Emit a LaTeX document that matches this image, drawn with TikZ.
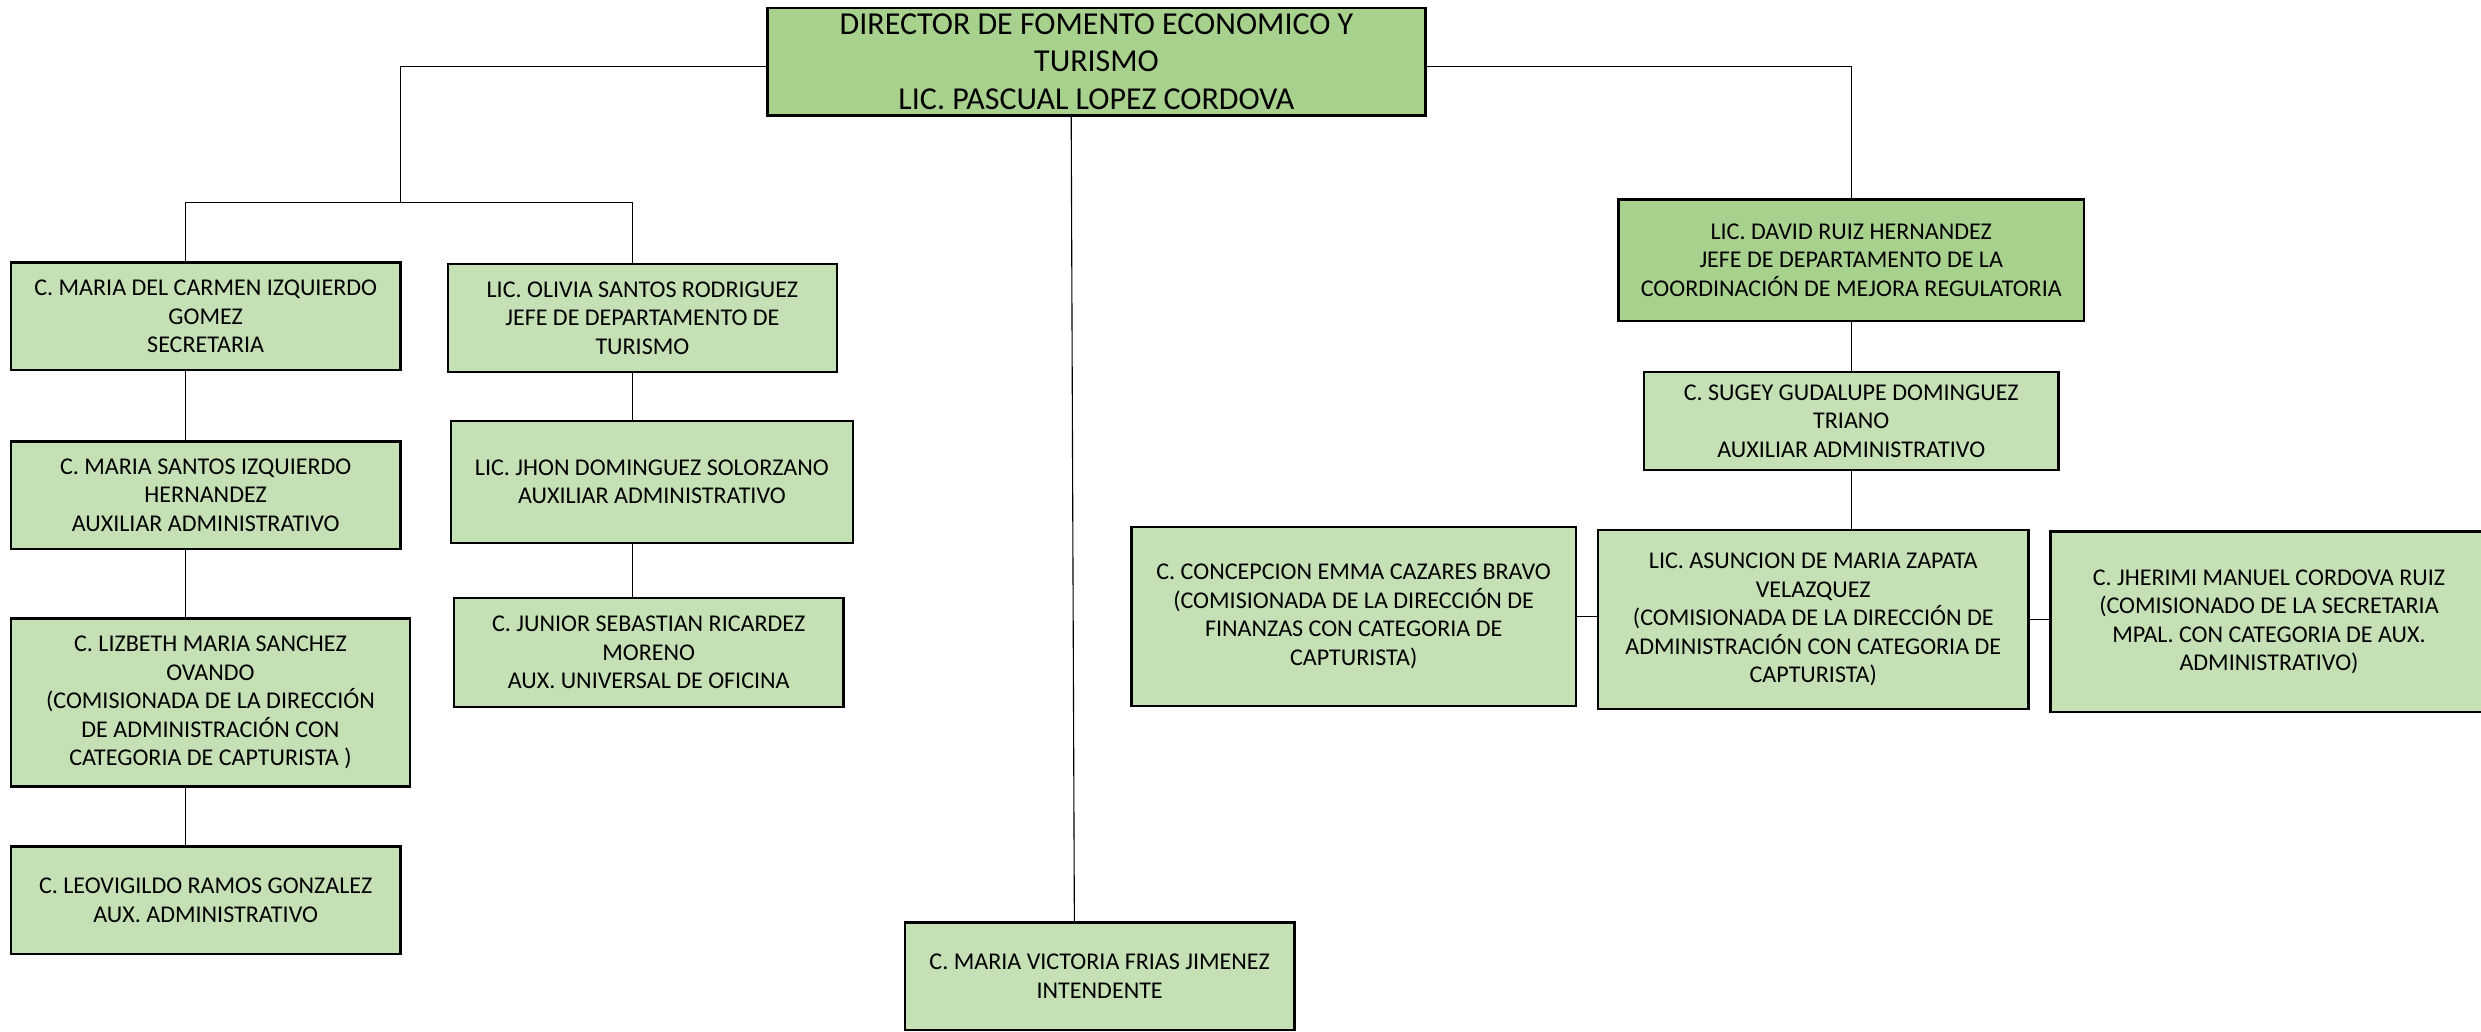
\documentclass[tikz,border=0pt]{standalone}
\usepackage{fontspec}
\setmainfont{Carlito}
\usepackage{xcolor}
\definecolor{boxgreen}{RGB}{197,224,180}
\definecolor{headgreen}{RGB}{169,209,142}

\begin{document}
\begin{tikzpicture}[x=1pt,y=1pt,yscale=-1,xscale=1,
  box/.style={draw=black,line width=1.5pt,fill=boxgreen,align=center,inner sep=2pt,
    font=\fontsize{15.2}{18}\selectfont},
  headbox/.style={box,fill=headgreen},
  link/.style={draw=black,line width=0.7pt}]
\useasboundingbox (0,0) rectangle (1568,652);

%Shape: Rectangle [director]
\node[headbox,minimum width=416,minimum height=68,font=\fontsize{20.2}{23.5}\selectfont] (director) at (693,39)
  {DIRECTOR DE FOMENTO ECONOMICO Y\\TURISMO\\LIC. PASCUAL LOPEZ CORDOVA};

%Shape: Rectangle [left column]
\node[box,minimum width=246,minimum height=68] (secretaria) at (130,200)
  {C. MARIA DEL CARMEN IZQUIERDO\\GOMEZ\\SECRETARIA};
\node[box,minimum width=246,minimum height=68] (auxsantos) at (130,313)
  {C. MARIA SANTOS IZQUIERDO\\HERNANDEZ\\AUXILIAR ADMINISTRATIVO};
\node[box,minimum width=252,minimum height=106] (lizbeth) at (133,444)
  {C. LIZBETH MARIA SANCHEZ\\OVANDO\\(COMISIONADA DE LA DIRECCIÓN\\DE ADMINISTRACIÓN CON\\CATEGORIA DE CAPTURISTA )};
\node[box,minimum width=246,minimum height=68] (leovigildo) at (130,569)
  {C. LEOVIGILDO RAMOS GONZALEZ\\AUX. ADMINISTRATIVO};

%Shape: Rectangle [turismo column]
\node[box,minimum width=246,minimum height=68] (turismo) at (406,201)
  {LIC. OLIVIA SANTOS RODRIGUEZ\\JEFE DE DEPARTAMENTO DE\\TURISMO};
\node[box,minimum width=254,minimum height=77] (jhon) at (412,304.5)
  {LIC. JHON DOMINGUEZ SOLORZANO\\AUXILIAR ADMINISTRATIVO};
\node[box,minimum width=246,minimum height=69] (junior) at (410,412.5)
  {C. JUNIOR SEBASTIAN RICARDEZ\\MORENO\\AUX. UNIVERSAL DE OFICINA};

%Shape: Rectangle [intendente]
\node[box,minimum width=246,minimum height=68] (intendente) at (695,617)
  {C. MARIA VICTORIA FRIAS JIMENEZ\\INTENDENTE};

%Shape: Rectangle [mejora regulatoria]
\node[headbox,minimum width=294,minimum height=77] (mejora) at (1170,164.5)
  {LIC. DAVID RUIZ HERNANDEZ\\JEFE DE DEPARTAMENTO DE LA\\COORDINACIÓN DE MEJORA REGULATORIA};
\node[box,minimum width=262,minimum height=62] (sugey) at (1170,266)
  {C. SUGEY GUDALUPE DOMINGUEZ\\TRIANO\\AUXILIAR ADMINISTRATIVO};
\node[box,minimum width=272,minimum height=113] (asuncion) at (1146,391.5)
  {LIC. ASUNCION DE MARIA ZAPATA\\VELAZQUEZ\\(COMISIONADA DE LA DIRECCIÓN DE\\ADMINISTRACIÓN CON CATEGORIA DE\\CAPTURISTA)};
\node[box,minimum width=281,minimum height=113] (concepcion) at (855.5,389.5)
  {C. CONCEPCION EMMA CAZARES BRAVO\\(COMISIONADA DE LA DIRECCIÓN DE\\FINANZAS CON CATEGORIA DE\\CAPTURISTA)};
\node[box,minimum width=276,minimum height=114] (jherimi) at (1434,393)
  {C. JHERIMI MANUEL CORDOVA RUIZ\\(COMISIONADO DE LA SECRETARIA\\MPAL. CON CATEGORIA DE AUX.\\ADMINISTRATIVO)};

%Straight Lines [left branch]
\coordinate (lmid) at (253,128);
\coordinate (lbus) at (117,128);
\coordinate (rbus) at (400,128);
\coordinate (dleft) at (485,42);
\coordinate (dright) at (901,42);
\draw[link] (dleft) -| (lmid);
\draw[link] (lbus |- secretaria.north) -- (lbus) -- (rbus) -- (rbus |- turismo.north);
\draw[link] (lbus |- secretaria.south) -- (lbus |- auxsantos.north);
\draw[link] (lbus |- auxsantos.south) -- (lbus |- lizbeth.north);
\draw[link] (lbus |- lizbeth.south) -- (lbus |- leovigildo.north);
\draw[link] (rbus |- turismo.south) -- (rbus |- jhon.north);
\draw[link] (rbus |- jhon.south) -- (rbus |- junior.north);

%Straight Lines [centre]
\draw[link] ([xshift=-16pt]director.south) -- ([xshift=-16pt]intendente.north);

%Straight Lines [right branch]
\draw[link] (dright) -| (mejora.north);
\draw[link] (mejora.south) -- (sugey.north);
\draw[link] (sugey.south) -- (sugey.south |- asuncion.north);
\draw[link] (concepcion.east) -- (concepcion.east -| asuncion.west);
\draw[link] (asuncion.east) -- (asuncion.east -| jherimi.west);

\end{tikzpicture}
\end{document}
